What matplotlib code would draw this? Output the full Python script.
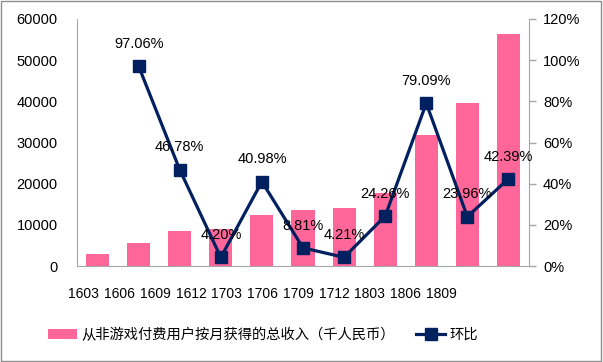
import matplotlib.pyplot as plt
from matplotlib.patches import Rectangle

plt.rcParams['font.family'] = ['Liberation Sans', 'Noto Sans CJK SC', 'DejaVu Sans']

months = ["1603", "1606", "1609", "1612", "1703", "1706", "1709", "1712", "1803", "1806", "1809"]
revenue = [2800, 5700, 8600, 9000, 12500, 13700, 14200, 17800, 31900, 39500, 56400]
growth = [None, 97.06, 46.78, 4.20, 40.98, 8.81, 4.21, 24.26, 79.09, 23.96, 42.39]

bar_label = "从非游戏付费用户按月获得的总收入（千人民币）"
line_label = "环比"

PINK = "#FF6699"
NAVY = "#002060"
GREY = "#A6A6A6"

fig = plt.figure(figsize=(6.03, 3.62), dpi=100)
ax = fig.add_axes([77 / 603, 1 - 266 / 362, 452 / 603, 247 / 362])
ax2 = ax.twinx()

x = list(range(len(months)))
bars = ax.bar(x, revenue, width=0.56, color=PINK, label=bar_label, zorder=2)

gx = [i for i, g in zip(x, growth) if g is not None]
gy = [g for g in growth if g is not None]
line, = ax2.plot(gx, gy, color=NAVY, lw=2.3, marker="s", markersize=9, label=line_label, zorder=3)
for xi, yi in zip(gx, gy):
    ax2.annotate(f"{yi:.2f}%", (xi, yi), xytext=(0, 16), textcoords="offset points",
                 ha="center", va="center", fontsize=10.5, color="black")

ax.set_xlim(-0.5, len(months) - 0.5)
ax.set_ylim(0, 60000)
ax.set_yticks(range(0, 60001, 10000))
ax2.set_ylim(0, 120)
ax2.set_yticks(range(0, 121, 20))
ax2.set_yticklabels([f"{v}%" for v in range(0, 121, 20)])

ax.set_xticks([])
ax.tick_params(axis="y", length=0, pad=14, labelsize=10.5)
ax2.tick_params(axis="y", length=5, width=1, color=GREY, direction="out", pad=5, labelsize=10.5)

for a in (ax, ax2):
    a.spines["top"].set_visible(False)
    for s in ("left", "right", "bottom"):
        a.spines[s].set_color(GREY)
ax.spines["right"].set_visible(False)
ax2.spines["left"].set_visible(False)
ax2.spines["bottom"].set_visible(False)

# category labels (drawn slightly compressed, as in the source)
ax_lbl = fig.add_axes([66 / 603, 1 - 266 / 362, 393 / 603, 0.001])
ax_lbl.set_xlim(-0.5, len(months) - 0.5)
ax_lbl.set_xticks(x)
ax_lbl.set_xticklabels(months, fontsize=10)
ax_lbl.set_yticks([])
ax_lbl.tick_params(axis="x", length=0, pad=15)
for s in ax_lbl.spines.values():
    s.set_visible(False)
ax_lbl.patch.set_visible(False)

fig.legend([bars, line], [bar_label, line_label], loc="center", ncol=2,
           bbox_to_anchor=(263 / 603, 1 - 335 / 362), frameon=False,
           fontsize=10.3, handlelength=2.0, handleheight=0.6,
           columnspacing=1.5, handletextpad=0.3)

fig.patches.append(Rectangle((0.002, 0.003), 0.994, 0.994, transform=fig.transFigure,
                             fill=False, edgecolor="#8C8C8C", lw=1))

fig.savefig("out.png", dpi=100)
